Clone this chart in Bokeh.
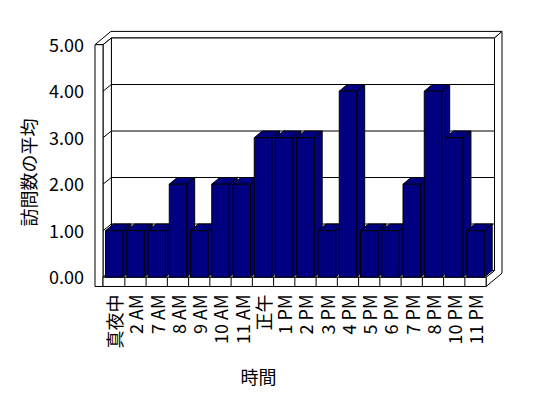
import numpy as np
from bokeh.plotting import figure
from bokeh.models import Range1d
from bokeh.core.properties import value
from bokeh.embed import file_html
from bokeh.resources import INLINE

# ---------------- data ----------------
categories = ["真夜中", "2 AM", "7 AM", "8 AM", "9 AM", "10 AM", "11 AM", "正午",
              "1 PM", "2 PM", "3 PM", "4 PM", "5 PM", "6 PM", "7 PM", "8 PM",
              "10 PM", "11 PM"]
values = [1, 1, 1, 2, 1, 2, 2, 3, 3, 3, 1, 4, 1, 1, 2, 4, 3, 1]
y_ticks = [0, 1, 2, 3, 4, 5]
y_tick_labels = ["0.00", "1.00", "2.00", "3.00", "4.00", "5.00"]
x_title = "時間"
y_title = "訪問数の平均"

# ---------------- layout (pixels) ----------------
W, H = 548, 398
PX_X = 21.25      # px per category
PX_Y = 46.5       # px per value unit
ORIGIN_X = 103.1  # px of category 0 left edge
ORIGIN_Y = 276.7  # px (from top) of value 0

def ux(px):
    return px / PX_X

def uy(px):
    return px / PX_Y

FONT = "Noto Sans CJK JP"
NAVY = "#000080"

p = figure(width=W, height=H, output_backend="svg", toolbar_location=None,
           x_range=Range1d(-ORIGIN_X / PX_X, (W - ORIGIN_X) / PX_X),
           y_range=Range1d((ORIGIN_Y - H) / PX_Y, ORIGIN_Y / PX_Y),
           x_axis_type=None, y_axis_type=None, min_border=0)
p.outline_line_color = None
p.grid.visible = False
p.background_fill_color = "white"
p.border_fill_color = "white"

# ---------------- 3D frame geometry (data units) ----------------
n = len(categories)
vmax = max(y_ticks)
DX, DY = ux(8.4), uy(6.7)      # floor depth
TX, TY = ux(7.5), uy(6.6)      # wall thickness
SO = ux(94.5 - ORIGIN_X)       # left slab outer
SI = ux(102.5 - ORIGIN_X)      # left slab inner
FBOT = -uy(9.3)                # floor thickness (below 0)

wall = dict(fill_color="white", line_color="black", line_width=1)

# merged top surface of left + back wall
p.patch([SO, SI, SI + DX, n + DX, n + DX + TX, SO + DX + TX],
        [vmax, vmax, vmax + DY, vmax + DY, vmax + DY + TY, vmax + DY + TY], **wall)
# right end face of floor + back wall
p.patch([n, n + DX, n + DX, n + DX + TX, n + DX + TX, n],
        [0, DY, vmax + DY, vmax + DY + TY, FBOT + DY + TY, FBOT], **wall)
# back wall inner face
p.patch([SI + DX, n + DX, n + DX, SI + DX],
        [DY, DY, vmax + DY, vmax + DY], **wall)
# left wall inner face
p.patch([SI, SI + DX, SI + DX, SI], [0, DY, vmax + DY, vmax], **wall)
# floor top
p.patch([SI, n, n + DX, SI + DX], [0, 0, DY, DY], **wall)
# gridlines
gv = [v for v in y_ticks if 0 < v < vmax]
p.multi_line([[SO, SI, SI + DX, n + DX] for _ in gv],
             [[v, v, v + DY, v + DY] for v in gv], line_color="black", line_width=1)
# left slab front face
p.patch([SO, SI, SI, SO], [FBOT, FBOT, vmax, vmax], **wall)
# floor front face
p.patch([SI, n, n, SI], [FBOT, FBOT, 0, 0], **wall)
p.segment(x0=list(range(1, n)), y0=[FBOT] * (n - 1), x1=list(range(1, n)), y1=[0] * (n - 1),
          line_color="black", line_width=1)

# ---------------- bars ----------------
BDX, BDY = ux(8.0), uy(6.7)
xs, ys = [], []
for i, v in enumerate(values):
    l, r = i + 0.09, i + 0.91
    xs.append([r, r + BDX, r + BDX, r]); ys.append([0, BDY, v + BDY, v])          # side
    xs.append([l, r, r + BDX, l + BDX]); ys.append([v, v, v + BDY, v + BDY])      # top
    xs.append([l, r, r, l]); ys.append([0, 0, v, v])                              # front
p.patches(xs, ys, fill_color=NAVY, line_color="black", line_width=1)

# ---------------- tick labels ----------------
txt = dict(text_font=value(FONT), text_font_size="18px", text_color="black")
p.text(x=[SO - ux(11)] * len(y_ticks), y=y_ticks, text=y_tick_labels,
       text_align="right", text_baseline="middle", **txt)
xt = [i + 0.5 for i in range(n)]
p.text(x=xt, y=[FBOT - uy(8)] * n, text=categories, angle=np.pi / 2,
       text_align="right", text_baseline="middle", **txt)

# ---------------- titles ----------------
p.text(x=[ux(258 - ORIGIN_X)], y=[uy(ORIGIN_Y - 375.5)], text=[x_title],
       text_align="center", text_baseline="middle", **txt)
p.text(x=[ux(27.5 - ORIGIN_X)], y=[uy(ORIGIN_Y - 172)], text=[y_title], angle=np.pi / 2,
       text_align="center", text_baseline="middle", **txt)

open("out.html", "w").write(file_html(p, INLINE))
